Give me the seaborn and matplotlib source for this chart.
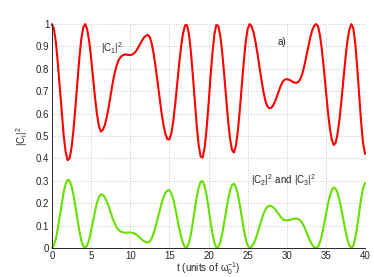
import matplotlib
matplotlib.use("Agg")
import matplotlib.pyplot as plt
import numpy as np
import pandas as pd
import seaborn as sns

# time axis (units of 1/omega_0), sampled every 0.25
t = np.arange(161) * 0.25

# |C1|^2
c1 = [1.000, 0.978, 0.918, 0.824, 0.714, 0.600, 0.500, 0.428, 0.392, 0.400,
      0.448, 0.528, 0.632, 0.744, 0.850, 0.934, 0.986, 1.000, 0.976, 0.924,
      0.848, 0.760, 0.672, 0.596, 0.544, 0.520, 0.528, 0.548, 0.584, 0.630,
      0.684, 0.736, 0.780, 0.814, 0.838, 0.852, 0.860, 0.864, 0.864, 0.862,
      0.862, 0.864, 0.870, 0.880, 0.894, 0.910, 0.926, 0.940, 0.948, 0.952,
      0.942, 0.912, 0.866, 0.806, 0.738, 0.668, 0.604, 0.548, 0.508, 0.486,
      0.484, 0.512, 0.568, 0.644, 0.732, 0.822, 0.900, 0.960, 0.994, 0.996,
      0.956, 0.876, 0.770, 0.654, 0.544, 0.458, 0.408, 0.404, 0.446, 0.530,
      0.640, 0.760, 0.870, 0.954, 0.996, 0.992, 0.950, 0.874, 0.776, 0.670,
      0.570, 0.488, 0.438, 0.426, 0.456, 0.522, 0.616, 0.724, 0.830, 0.920,
      0.978, 1.000, 0.990, 0.964, 0.922, 0.870, 0.812, 0.754, 0.702, 0.660,
      0.634, 0.624, 0.626, 0.636, 0.654, 0.678, 0.702, 0.726, 0.744, 0.752,
      0.754, 0.752, 0.748, 0.742, 0.738, 0.738, 0.742, 0.756, 0.780, 0.814,
      0.856, 0.900, 0.940, 0.972, 0.992, 1.000, 0.990, 0.948, 0.882, 0.796,
      0.702, 0.612, 0.536, 0.484, 0.460, 0.470, 0.512, 0.578, 0.664, 0.758,
      0.848, 0.924, 0.976, 1.000, 0.982, 0.914, 0.808, 0.682, 0.562, 0.468,
      0.420]

# |C2|^2 (= |C3|^2)
c23 = [0.000, 0.011, 0.041, 0.088, 0.143, 0.200, 0.250, 0.286, 0.304, 0.300,
       0.276, 0.236, 0.184, 0.128, 0.075, 0.033, 0.007, 0.000, 0.012, 0.038,
       0.076, 0.120, 0.164, 0.202, 0.228, 0.240, 0.236, 0.226, 0.208, 0.185,
       0.158, 0.132, 0.110, 0.093, 0.081, 0.074, 0.070, 0.068, 0.068, 0.069,
       0.069, 0.068, 0.065, 0.060, 0.053, 0.045, 0.037, 0.030, 0.026, 0.024,
       0.029, 0.044, 0.067, 0.097, 0.131, 0.166, 0.198, 0.226, 0.246, 0.257,
       0.258, 0.244, 0.216, 0.178, 0.134, 0.089, 0.050, 0.020, 0.003, 0.002,
       0.022, 0.062, 0.115, 0.173, 0.228, 0.271, 0.296, 0.298, 0.277, 0.235,
       0.180, 0.120, 0.065, 0.023, 0.002, 0.004, 0.025, 0.063, 0.112, 0.165,
       0.215, 0.256, 0.281, 0.287, 0.272, 0.239, 0.192, 0.138, 0.085, 0.040,
       0.011, 0.000, 0.005, 0.018, 0.039, 0.065, 0.094, 0.123, 0.149, 0.170,
       0.183, 0.188, 0.187, 0.182, 0.173, 0.161, 0.149, 0.137, 0.128, 0.124,
       0.123, 0.124, 0.126, 0.129, 0.131, 0.131, 0.129, 0.122, 0.110, 0.093,
       0.072, 0.050, 0.030, 0.014, 0.004, 0.000, 0.005, 0.026, 0.059, 0.102,
       0.149, 0.194, 0.232, 0.258, 0.270, 0.265, 0.244, 0.211, 0.168, 0.121,
       0.076, 0.038, 0.012, 0.000, 0.009, 0.043, 0.096, 0.159, 0.219, 0.266,
       0.290]

xticks = [0, 5, 10, 15, 20, 25, 30, 35, 40]
yticks = [0, 0.1, 0.2, 0.3, 0.4, 0.5, 0.6, 0.7, 0.8, 0.9, 1]
ytick_labels = ['0', '0.1', '0.2', '0.3', '0.4', '0.5', '0.6', '0.7', '0.8', '0.9', '1']

sns.set_style("white")
plt.rcParams['font.family'] = ['Liberation Sans', 'DejaVu Sans']
plt.rcParams['mathtext.default'] = 'regular'

df = pd.DataFrame({'t': t, 'c1': c1, 'c23': c23})

fig = plt.figure(figsize=(3.74, 2.77), dpi=100)
ax = fig.add_axes([0.139, 0.105, 0.837, 0.808])

sns.lineplot(data=df, x='t', y='c1', color='#ff0000', linewidth=1.5, ax=ax, clip_on=False)
sns.lineplot(data=df, x='t', y='c23', color='#66e000', linewidth=1.5, ax=ax, clip_on=False)

ax.set_xlim(0, 40)
ax.set_ylim(0, 1)
ax.set_xticks(xticks)
ax.set_yticks(yticks)
ax.set_yticklabels(ytick_labels)
ax.grid(True, linestyle=':', color='#c8c8c8', linewidth=0.7)
ax.tick_params(direction='in', length=2.5, width=0.6, labelsize=7, colors='#262626', pad=2)
for side in ['top', 'right']:
    ax.spines[side].set_visible(False)
for side in ['left', 'bottom']:
    ax.spines[side].set_color('#262626')
    ax.spines[side].set_linewidth(0.7)

ax.set_xlabel(r'$\mathregular{t\ (units\ of\ ω_0^{-1})}$', fontsize=7, color='#262626', labelpad=0)
ax.set_ylabel(r'$\mathregular{|C_i|^2}$', fontsize=7, color='#262626', labelpad=4)

ax.text(7.6, 0.893, r'$\mathregular{|C_1|^2}$', fontsize=7, color='#262626', ha='center', va='center')
ax.text(29.4, 0.921, 'a)', fontsize=7, color='#262626', ha='center', va='center')
ax.text(29.6, 0.304, r'$\mathregular{|C_2|^2\ and\ |C_3|^2}$', fontsize=7, color='#262626', ha='center', va='center')

fig.savefig('out.png', dpi=100)
